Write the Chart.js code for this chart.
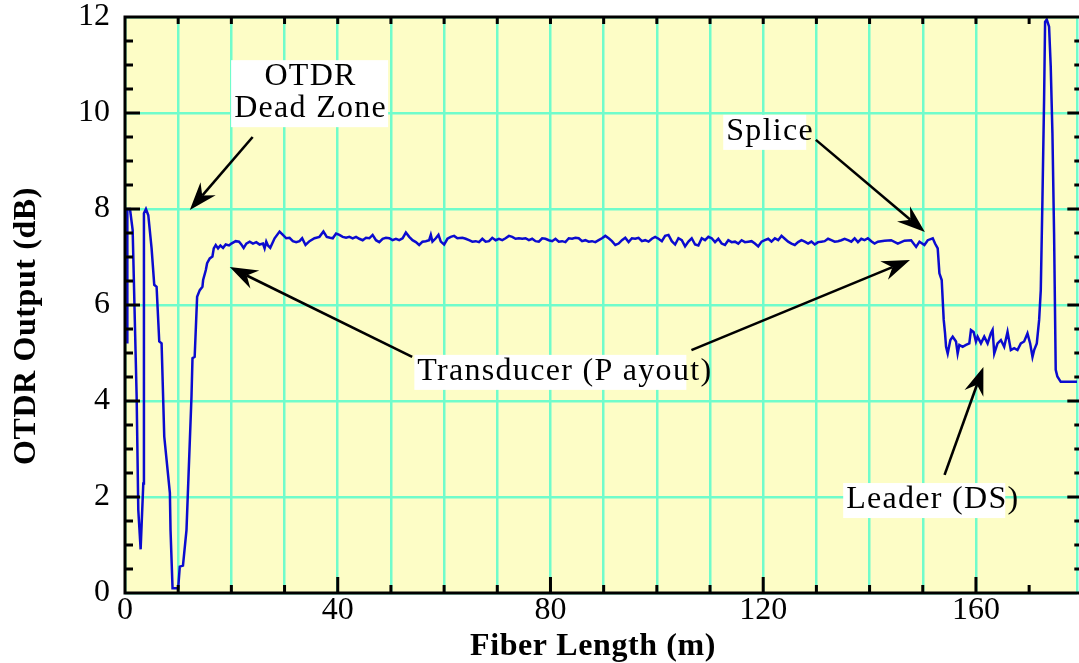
<!DOCTYPE html>
<html>
<head>
<meta charset="utf-8">
<script src="https://cdn.jsdelivr.net/npm/chart.js@4.4.1/dist/chart.umd.min.js"></script>
<style>
    html, body { margin: 0; padding: 0; background: #ffffff; }
    #wrap { width: 1079px; height: 663px; position: relative; }
</style>
</head>
<body>
<div id="wrap"><canvas id="otdrChart"></canvas></div>
<script>
// dead zone / transducer rise (m, dB)
const deadZoneLength = [0.44, 0.44, 0.94, 1.44, 2.19, 2.5, 2.94, 3.44, 3.56, 3.94, 4.38, 5.0, 5.5, 5.94, 6.44, 6.88,
    7.38, 8.44, 8.56, 8.94, 10.0, 10.3, 10.9, 11.56, 12.5, 12.69, 13.1, 13.56, 14.06, 14.56, 14.69, 15.2];
const deadZoneOutput = [5.2, 8.0, 8.0, 7.56, 4.09, 1.73, 0.91, 2.28, 7.91, 8.0, 7.87, 7.18, 6.42, 6.38, 5.24, 5.2,
    3.26, 2.08, 1.31, 0.1, 0.1, 0.55, 0.57, 1.31, 4.09, 4.89, 4.92, 6.17, 6.31, 6.38, 6.52, 6.73];

// transducer payout, first half
const payoutLengthA = [15.44, 15.94, 16.44, 16.69, 17.06, 17.5, 17.94, 18.44, 18.94, 19.56,
    20.0, 20.81, 21.44, 21.88, 22.31, 22.81, 23.44, 24.06, 24.69, 25.31,
    25.94, 26.25, 26.56, 26.88, 27.31, 28.13, 29.06, 29.69, 30.31, 30.94,
    31.56, 32.19, 32.81, 33.31, 33.94, 34.69, 35.63, 36.56, 37.31, 37.94,
    38.56, 39.06, 39.69, 40.31, 40.94, 41.56, 42.19, 42.81, 43.44, 44.06,
    44.69, 45.31, 45.94, 46.56, 47.19, 47.81, 48.44, 49.06, 49.69, 50.31,
    50.94, 51.56, 52.19, 52.81, 53.44, 54.06, 54.69, 55.31, 55.94, 56.56,
    57.19, 57.5, 57.81, 58.44, 58.94, 59.38, 60.0, 60.63, 61.25, 61.88,
    62.5, 63.44, 64.06, 64.69, 65.31, 65.94, 66.56, 67.19, 67.81, 68.44,
    69.06, 69.69, 70.31, 70.94, 71.56, 72.19, 72.81, 73.44, 74.06, 74.69,
    75.31, 75.94, 76.56, 77.19, 77.81, 78.44, 79.06, 79.69, 80.31, 80.94,
    81.56, 82.19, 82.81, 83.44, 84.06, 84.69, 85.31];
const payoutOutputA = [6.87, 6.97, 7.01, 7.18, 7.25, 7.18, 7.24, 7.19, 7.26, 7.24,
    7.28, 7.33, 7.32, 7.26, 7.19, 7.28, 7.32, 7.28, 7.31, 7.26,
    7.28, 7.18, 7.32, 7.24, 7.19, 7.39, 7.53, 7.46, 7.39, 7.40,
    7.33, 7.31, 7.33, 7.39, 7.25, 7.33, 7.39, 7.42, 7.53, 7.42,
    7.40, 7.39, 7.49, 7.46, 7.42, 7.40, 7.42, 7.39, 7.42, 7.38,
    7.35, 7.40, 7.39, 7.46, 7.35, 7.31, 7.38, 7.40, 7.39, 7.35,
    7.38, 7.35, 7.39, 7.51, 7.42, 7.35, 7.31, 7.25, 7.32, 7.33,
    7.35, 7.46, 7.32, 7.39, 7.46, 7.32, 7.26, 7.38, 7.42, 7.44,
    7.39, 7.40, 7.38, 7.35, 7.32, 7.33, 7.31, 7.38, 7.32, 7.33,
    7.40, 7.35, 7.38, 7.35, 7.39, 7.44, 7.42, 7.38, 7.39, 7.38,
    7.39, 7.35, 7.38, 7.33, 7.32, 7.39, 7.38, 7.35, 7.33, 7.38,
    7.32, 7.33, 7.31, 7.39, 7.38, 7.40, 7.39];

// transducer payout, second half
const payoutLengthB = [85.94, 86.56, 87.19, 87.81, 88.44, 89.06, 89.69, 90.31, 90.94, 91.56,
    92.19, 92.81, 93.44, 94.06, 94.69, 95.31, 95.94, 96.56, 97.19, 97.81,
    98.44, 99.06, 99.69, 100.31, 100.94, 101.56, 102.19, 102.81, 103.44, 104.06,
    104.69, 105.31, 105.94, 106.56, 107.19, 107.81, 108.44, 109.06, 109.69, 110.31,
    110.94, 111.56, 112.19, 112.81, 113.44, 114.06, 114.69, 115.31, 115.94, 116.56,
    117.19, 117.81, 118.44, 119.06, 119.69, 120.31, 120.94, 121.56, 122.19, 122.81,
    123.44, 124.06, 124.69, 125.31, 125.94, 126.56, 127.19, 127.81, 128.44, 129.06,
    129.69, 130.31, 130.94, 131.56, 132.19, 132.81, 133.44, 134.06, 134.69, 135.31,
    135.94, 136.56, 137.19, 137.81, 138.44, 139.06, 139.69, 140.31, 140.94];
const payoutOutputB = [7.33, 7.35, 7.32, 7.33, 7.31, 7.35, 7.39, 7.44, 7.39, 7.33,
    7.25, 7.28, 7.35, 7.40, 7.31, 7.39, 7.38, 7.40, 7.33, 7.35,
    7.32, 7.38, 7.42, 7.38, 7.33, 7.44, 7.46, 7.33, 7.26, 7.39,
    7.35, 7.22, 7.32, 7.39, 7.26, 7.24, 7.39, 7.35, 7.42, 7.39,
    7.31, 7.38, 7.28, 7.25, 7.35, 7.31, 7.32, 7.28, 7.35, 7.31,
    7.32, 7.33, 7.28, 7.22, 7.32, 7.35, 7.38, 7.32, 7.39, 7.35,
    7.44, 7.38, 7.32, 7.28, 7.25, 7.31, 7.35, 7.32, 7.28, 7.32,
    7.26, 7.31, 7.32, 7.33, 7.38, 7.35, 7.32, 7.33, 7.35, 7.38,
    7.35, 7.32, 7.39, 7.31, 7.38, 7.35, 7.39, 7.33, 7.28];

// splice, leader (DS) and fiber end
const leaderLength = [141.56, 142.81, 144.06, 145.31, 146.56, 147.81, 148.75, 149.38, 150.31, 150.94,
    151.88, 152.31, 152.81, 153.13, 153.56, 153.94, 154.19, 154.38, 154.69, 155.19,
    155.63, 156.25, 156.56, 156.88, 157.5, 158.13, 158.75, 159.06, 159.56, 160.0,
    160.31, 160.94, 161.56, 162.19, 162.81, 163.13, 163.44, 164.06, 164.69, 165.31,
    165.94, 166.56, 167.19, 167.81, 168.44, 169.06, 169.69, 170.19, 170.63, 170.94,
    171.44, 171.88, 172.19, 172.5, 172.81, 173.0, 173.31, 173.75, 174.06, 174.38,
    174.69, 175.0, 175.31, 175.94, 177.19, 180.0];
const leaderOutput = [7.32, 7.34, 7.35, 7.28, 7.34, 7.35, 7.21, 7.32, 7.25, 7.35,
    7.39, 7.28, 7.18, 6.66, 6.52, 5.69, 5.41, 5.13, 4.99, 5.27,
    5.34, 5.24, 4.99, 5.17, 5.13, 5.17, 5.20, 5.48, 5.44, 5.24,
    5.34, 5.20, 5.34, 5.20, 5.41, 5.48, 4.99, 5.20, 5.27, 5.13,
    5.44, 5.06, 5.10, 5.06, 5.20, 5.24, 5.41, 5.20, 4.92, 5.06,
    5.20, 5.69, 6.31, 8.19, 10.27, 11.90, 11.95, 11.80, 10.97, 9.58,
    7.49, 4.65, 4.51, 4.40, 4.40, 4.40];

const xTickLabels = [0, 40, 80, 120, 160];

// callouts, in data units (m, dB)
const calloutLabels = [
    { lines: ['OTDR', 'Dead Zone'], x: 34.9, y: 10.58 },
    { lines: ['Splice'], x: 121.3, y: 9.44 },
    { lines: ['Transducer (P ayout)'], x: 82.7, y: 4.44 },
    { lines: ['Leader (DS)'], x: 151.9, y: 1.77 }
];
const calloutArrows = [
    { from: [24.0, 9.5], to: [12.19, 7.98] },
    { from: [54.0, 4.92], to: [19.69, 6.79] },
    { from: [106.5, 5.06], to: [147.6, 6.94] },
    { from: [129.9, 9.44], to: [150.4, 7.52] },
    { from: [154.1, 2.46], to: [161.4, 4.71] }
];

const SERIF = "'Liberation Serif', 'Times New Roman', Times, serif";
const PLOT_BG = '#fdfdc6';
const GRID = '#70fccb';
const TRACE = '#0b0bcf';

const toPoints = (xs, ys) => xs.map((x, i) => ({ x, y: ys[i] }));

const tracePoints = [
    ...toPoints(deadZoneLength, deadZoneOutput),
    ...toPoints(payoutLengthA, payoutOutputA),
    ...toPoints(payoutLengthB, payoutOutputB),
    ...toPoints(leaderLength, leaderOutput)
];

const plotBackground = {
    id: 'plotBackground',
    beforeDraw(chart) {
        const { ctx, chartArea: a } = chart;
        ctx.save();
        ctx.fillStyle = PLOT_BG;
        ctx.fillRect(a.left, a.top, a.right - a.left, a.bottom - a.top);
        ctx.restore();
    }
};

const frameTicks = {
    id: 'frameTicks',
    afterDatasetsDraw(chart) {
        const { ctx, chartArea: a, scales: { x, y } } = chart;
        ctx.save();
        ctx.strokeStyle = '#000';
        ctx.lineWidth = 3;
        ctx.beginPath();
        ctx.moveTo(a.right + 5, a.top);
        ctx.lineTo(a.left, a.top);
        ctx.lineTo(a.left, a.bottom);
        ctx.lineTo(a.right + 5, a.bottom);
        ctx.stroke();

        // x ticks, top and bottom, pointing in
        ctx.beginPath();
        for (let v = 10; v <= 180; v += 10) {
            const px = x.getPixelForValue(v);
            const big = v % 40 === 0 ? 16 : 8;
            ctx.moveTo(px, a.bottom);
            ctx.lineTo(px, a.bottom - big);
            ctx.moveTo(px, a.top);
            ctx.lineTo(px, a.top + 7);
        }
        // y ticks, left and right, pointing in
        const rightEdge = x.getPixelForValue(180);
        for (let v = 0.5; v < 12; v += 0.5) {
            const py = y.getPixelForValue(v);
            const big = v % 2 === 0 ? 15 : 8;
            ctx.moveTo(a.left, py);
            ctx.lineTo(a.left + big, py);
            ctx.moveTo(rightEdge, py);
            ctx.lineTo(rightEdge - big, py);
        }
        ctx.stroke();
        ctx.restore();
    }
};

function drawArrow(ctx, x1, y1, x2, y2) {
    const ang = Math.atan2(y2 - y1, x2 - x1);
    const len = 28, half = 10, notch = 9;
    ctx.beginPath();
    ctx.moveTo(x1, y1);
    ctx.lineTo(x2 - Math.cos(ang) * (len - notch), y2 - Math.sin(ang) * (len - notch));
    ctx.stroke();
    ctx.save();
    ctx.translate(x2, y2);
    ctx.rotate(ang);
    ctx.beginPath();
    ctx.moveTo(0, 0);
    ctx.lineTo(-len, -half);
    ctx.lineTo(-len + notch, 0);
    ctx.lineTo(-len, half);
    ctx.closePath();
    ctx.fill();
    ctx.restore();
}

const callouts = {
    id: 'callouts',
    afterDraw(chart) {
        const { ctx, scales: { x, y } } = chart;
        ctx.save();
        ctx.font = `32px ${SERIF}`;
        ctx.textBaseline = 'alphabetic';
        ctx.textAlign = 'left';

        calloutLabels.forEach((label) => {
            const cx = x.getPixelForValue(label.x);
            const base = y.getPixelForValue(label.y);
            ctx.letterSpacing = '0px';
            const natural = Math.max(...label.lines.map((t) => ctx.measureText(t).width));
            ctx.letterSpacing = '1.3px';
            const drawn = label.lines.map((t) => ctx.measureText(t).width);
            const widest = Math.max(...drawn);
            const left = cx - widest / 2;
            const lastBase = base + 32 * (label.lines.length - 1);
            ctx.fillStyle = '#ffffff';
            ctx.fillRect(left - 3, base - 25, natural + (label.lines.length > 1 ? widest - natural + 4 : 3), lastBase - base + 35);
            ctx.fillStyle = '#000000';
            label.lines.forEach((t, i) => {
                ctx.fillText(t, cx - drawn[i] / 2, base + 32 * i);
            });
        });

        ctx.letterSpacing = '0px';
        ctx.strokeStyle = '#000';
        ctx.fillStyle = '#000';
        ctx.lineWidth = 2.6;
        calloutArrows.forEach((arrow) => {
            drawArrow(ctx,
                x.getPixelForValue(arrow.from[0]), y.getPixelForValue(arrow.from[1]),
                x.getPixelForValue(arrow.to[0]), y.getPixelForValue(arrow.to[1]));
        });

        // axis titles
        const a = chart.chartArea;
        ctx.font = `bold 32px ${SERIF}`;
        ctx.letterSpacing = '0.6px';
        ctx.textAlign = 'center';
        ctx.fillText('Fiber Length (m)', (a.left + a.right) / 2 - 8, 655);
        ctx.translate(27, (a.top + a.bottom) / 2 + 21);
        ctx.rotate(-Math.PI / 2);
        ctx.textBaseline = 'middle';
        ctx.fillText('OTDR Output (dB)', 0, 0);
        ctx.restore();
    }
};

new Chart(document.getElementById('otdrChart'), {
    type: 'line',
    data: {
        datasets: [{
            label: 'OTDR Output',
            data: tracePoints,
            borderColor: TRACE,
            borderWidth: 2.5,
            pointRadius: 0,
            fill: false,
            tension: 0
        }]
    },
    options: {
        responsive: true,
        maintainAspectRatio: false,
        animation: false,
        layout: { padding: { top: 17, right: 0, left: 0, bottom: 0 } },
        plugins: {
            legend: { display: false },
            tooltip: { enabled: false }
        },
        scales: {
            x: {
                type: 'linear',
                min: 0,
                max: 179,
                border: { display: false },
                grid: { color: GRID, lineWidth: 2.5, drawTicks: false },
                ticks: {
                    stepSize: 10,
                    autoSkip: false,
                    maxRotation: 0,
                    padding: 2,
                    color: '#000',
                    font: { family: SERIF, size: 32, lineHeight: 1 },
                    callback: (v) => (xTickLabels.includes(v) ? String(v) : '')
                },
                afterFit: (scale) => { scale.height = 70; }
            },
            y: {
                min: 0,
                max: 12,
                border: { display: false },
                grid: { color: GRID, lineWidth: 2.5, drawTicks: false },
                ticks: {
                    stepSize: 2,
                    padding: 15,
                    color: '#000',
                    // tiny line height so the top label does not push the plot down
                    font: { family: SERIF, size: 32, lineHeight: 0.05 }
                },
                afterFit: (scale) => { scale.width = 125; }
            }
        }
    },
    plugins: [plotBackground, frameTicks, callouts]
});
</script>
</body>
</html>
